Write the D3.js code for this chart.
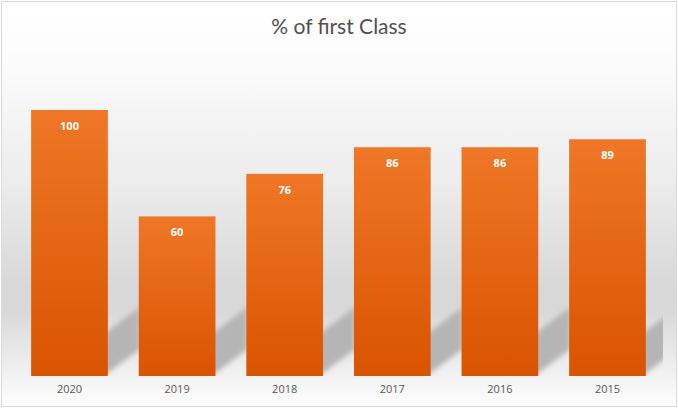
<!DOCTYPE html>
<html>
<head>
<meta charset="utf-8">
<script src="https://cdn.jsdelivr.net/npm/d3@7"></script>
<style>
  html, body { margin: 0; padding: 0; background: #fff; }
  svg { display: block; }
</style>
</head>
<body>
<svg id="chart"></svg>
<script>
const years = ["2020", "2019", "2018", "2017", "2016", "2015"];
const firstClass = [100, 60, 76, 86, 86, 89];
const chartTitle = "% of first Class";

const width = 678;
const height = 409;

function drawChart() {
    const svg = d3.select("#chart")
        .attr("width", width)
        .attr("height", height);

    const data = years.map((y, i) => ({ year: y, value: firstClass[i] }));

    const defs = svg.append("defs");

    // background: white at top, grey band behind the bar feet, white below
    const bg = defs.append("linearGradient")
        .attr("id", "bg")
        .attr("x1", 0).attr("y1", 0).attr("x2", 0).attr("y2", 1);
    [[0, "#ffffff"], [0.12, "#fdfdfd"], [0.45, "#ececec"], [0.7, "#d8d8d8"],
     [0.76, "#d8d8d8"], [0.92, "#f1f1f1"], [1, "#ffffff"]]
        .forEach(([o, c]) => bg.append("stop").attr("offset", o).attr("stop-color", c));

    const barGrad = defs.append("linearGradient")
        .attr("id", "barGrad")
        .attr("x1", 0).attr("y1", 0).attr("x2", 0).attr("y2", 1);
    barGrad.append("stop").attr("offset", 0).attr("stop-color", "#ef7727");
    barGrad.append("stop").attr("offset", 1).attr("stop-color", "#d95400");

    const blur = defs.append("filter")
        .attr("id", "blur")
        .attr("x", "-30%").attr("y", "-30%").attr("width", "160%").attr("height", "160%");
    blur.append("feGaussianBlur").attr("stdDeviation", 2.5);

    defs.append("clipPath").attr("id", "plotClip")
        .append("rect")
        .attr("x", 10).attr("y", 60).attr("width", 653).attr("height", 316);

    svg.append("rect")
        .attr("x", 1.5).attr("y", 1.5)
        .attr("width", width - 3).attr("height", height - 4)
        .attr("fill", "url(#bg)")
        .attr("stroke", "#d9d9d9")
        .attr("stroke-width", 1);

    // Scales
    const x = d3.scaleBand()
        .domain(years)
        .range([15.7, 661.3])
        .paddingInner(0.287)
        .paddingOuter(0.1435);

    const y = d3.scaleLinear()
        .domain([0, 100])
        .range([376, 110]);

    // Slanted shadows cast to the right of each bar foot
    const sdx = 36, sdy = 27, shadowH = 46;
    svg.append("g")
        .attr("clip-path", "url(#plotClip)")
        .append("g")
        .attr("filter", "url(#blur)")
        .selectAll("path")
        .data(data)
        .join("path")
        .attr("fill", "#b5b5b5")
        .attr("d", d => {
            const x1 = x(d.year) + x.bandwidth() - 4;
            const yb = y(0), yt = y(0) - shadowH;
            return `M${x1},${yb}L${x1 + sdx},${yb - sdy}L${x1 + sdx},${yt - sdy + 4}L${x1},${yt + 4}Z`;
        });

    // Bars
    svg.append("g")
        .selectAll("rect")
        .data(data)
        .join("rect")
        .attr("x", d => x(d.year))
        .attr("y", d => y(d.value))
        .attr("width", x.bandwidth())
        .attr("height", d => y(0) - y(d.value))
        .attr("fill", "url(#barGrad)");

    // Value labels
    svg.append("g")
        .selectAll("text")
        .data(data)
        .join("text")
        .attr("x", d => x(d.year) + x.bandwidth() / 2)
        .attr("y", d => y(d.value) + 20)
        .attr("text-anchor", "middle")
        .style("font-family", "'Open Sans', 'DejaVu Sans', sans-serif")
        .style("font-size", "11px")
        .style("font-weight", "bold")
        .attr("fill", "#ffffff")
        .text(d => d.value);

    // X axis
    const xAxis = svg.append("g")
        .attr("transform", `translate(0,${y(0)})`)
        .call(d3.axisBottom(x).tickSize(0).tickPadding(9));
    xAxis.select(".domain").remove();
    xAxis.selectAll("text")
        .style("font-family", "'Open Sans', 'DejaVu Sans', sans-serif")
        .style("font-size", "11px")
        .attr("fill", "#595959");

    // Title
    svg.append("text")
        .attr("x", 339)
        .attr("y", 34)
        .attr("text-anchor", "middle")
        .style("font-family", "Lato, 'Open Sans', sans-serif")
        .style("font-size", "21px")
        .attr("fill", "#505050")
        .text(chartTitle);
}

drawChart();
</script>
</body>
</html>
